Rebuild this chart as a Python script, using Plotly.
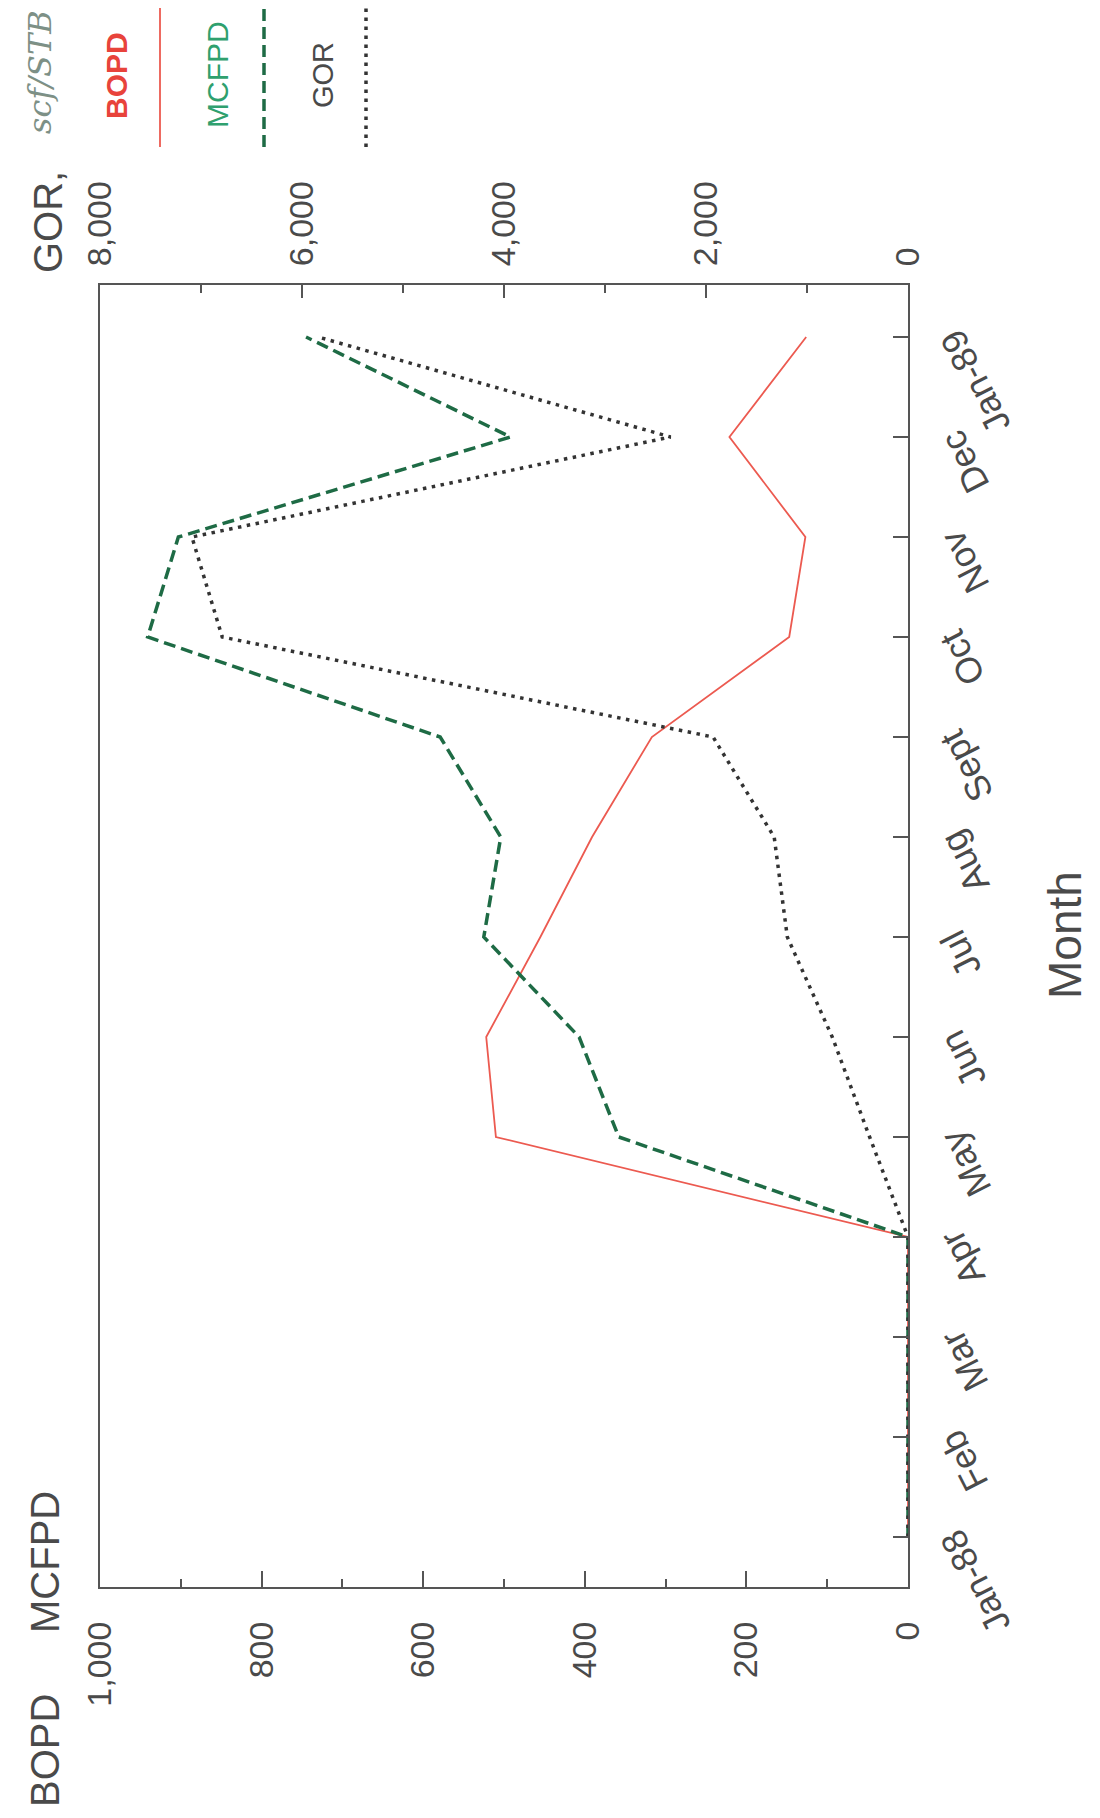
import plotly.graph_objects as go

# ---- data ----
months = ["Jan-88", "Feb", "Mar", "Apr", "May", "Jun", "Jul",
          "Aug", "Sept", "Oct", "Nov", "Dec", "Jan-89"]
bopd = [0, 0, 0, 0, 510, 522, 455, 391, 317, 147, 127, 221, 126]
mcfpd = [0, 0, 0, 0, 358, 407, 525, 504, 579, 941, 903, 492, 745]
gor = [0, 0, 0, 0, 380, 750, 1195, 1325, 1930, 6790, 7090, 2350, 5840]
rate_ticks = [0, 200, 400, 600, 800, 1000]
gor_ticks = [0, 2000, 4000, 6000, 8000]

# ---- geometry (page body has an 8px margin) ----
OFF = 8
W, H = 1100 - 2 * OFF, 1818 - 2 * OFF
PL, PT, PW, PH = 100, 285, 808, 1302          # plot box in page pixels
L, T = PL - OFF, PT - OFF
R, B = W - L - PW, H - T - PH


def px(x):
    return (x - PL) / PW


def py(y):
    return (PT + PH - y) / PH


FONT = "Liberation Sans"
AX = "#555555"
TXT = "#4a4a4a"
RED = "#ec5a50"
GREEN = "#1e6b45"
DOT = "#333333"

idx = list(range(len(months)))

fig = go.Figure()
fig.add_trace(go.Scatter(x=bopd, y=idx, mode="lines", name="BOPD",
                         line=dict(color=RED, width=1.8)))
fig.add_trace(go.Scatter(x=mcfpd, y=idx, mode="lines", name="MCFPD",
                         line=dict(color=GREEN, width=3.5, dash="12px,6px")))
fig.add_trace(go.Scatter(x=gor, y=idx, mode="lines", name="GOR", xaxis="x2",
                         line=dict(color=DOT, width=3.5, dash="3.5px,5.5px")))

tickfont = dict(family=FONT, size=34, color=TXT)

fig.update_layout(
    width=W, height=H,
    margin=dict(l=L, r=R, t=T, b=B, pad=0),
    paper_bgcolor="white", plot_bgcolor="white",
    showlegend=False,
    xaxis=dict(range=[1000, 0], tickvals=rate_ticks, tickformat=",d",
               tickangle=-90, tickfont=tickfont,
               ticks="inside", ticklen=16, tickwidth=2, tickcolor=AX,
               minor=dict(ticks="inside", ticklen=8, tickwidth=2,
                          tickcolor=AX, dtick=100),
               showline=True, linecolor=AX, linewidth=2,
               showgrid=False, zeroline=False, ticklabelstandoff=19),
    xaxis2=dict(range=[8000, 0], overlaying="x", side="top",
                tickvals=gor_ticks, tickformat=",d",
                tickangle=-90, tickfont=tickfont,
                ticks="inside", ticklen=13, tickwidth=2, tickcolor=AX,
                minor=dict(ticks="inside", ticklen=8, tickwidth=2,
                           tickcolor=AX, dtick=1000),
                showline=True, linecolor=AX, linewidth=2,
                showgrid=False, zeroline=False, ticklabelstandoff=10),
    yaxis=dict(range=[-0.5, 12.52], side="right", tickvals=idx,
               showticklabels=False,
               ticks="inside", ticklen=15, tickwidth=2, tickcolor=AX,
               showline=True, mirror=True, linecolor=AX, linewidth=2,
               showgrid=False, zeroline=False),
)

ann = []
# month tick labels (rotated, end of text at the tick)
for i, m in enumerate(months):
    ann.append(dict(x=px(929), xref="paper", y=i, yref="y",
                    text=m, showarrow=False, textangle=-117,
                    xanchor="left", yanchor="top", yshift=16,
                    font=dict(family=FONT, size=36, color=TXT)))


def label(x, y, text, size, color=TXT, family=FONT):
    return dict(x=px(x), y=py(y), xref="paper", yref="paper", text=text,
                textangle=-90, showarrow=False,
                xanchor="center", yanchor="middle",
                font=dict(family=family, size=size, color=color))


ann += [
    label(45, 1750, "BOPD", 40),
    label(45, 1562, "MCFPD", 40),
    label(48, 222, "GOR,", 40),
    label(40, 72, "<i>scf/STB</i>", 32, "#7d9086", "DejaVu Serif"),
    label(1065, 935, "Month", 46),
    # legend labels
    label(116, 76, "<b>BOPD</b>", 30, "#e8433b"),
    label(218, 75, "MCFPD", 30, "#2fa06e"),
    label(323, 75, "GOR", 29),
]
fig.update_layout(annotations=ann)

# legend line samples
samples = [
    dict(x=160, color=RED, width=1.8, dash="solid"),
    dict(x=264, color=GREEN, width=3.5, dash="12px,6px"),
    dict(x=366, color=DOT, width=3.5, dash="3.5px,5.5px"),
]
fig.update_layout(shapes=[
    dict(type="line", xref="paper", yref="paper",
         x0=px(s["x"]), x1=px(s["x"]), y0=py(147), y1=py(6),
         line=dict(color=s["color"], width=s["width"], dash=s["dash"]))
    for s in samples
])

fig.write_html("out.html")
